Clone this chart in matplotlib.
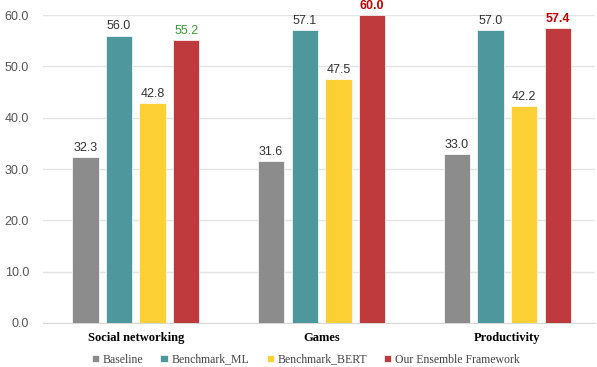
import numpy as np
import matplotlib.pyplot as plt

categories = ['Social networking', 'Games', 'Productivity']
series_names = ['Baseline', 'Benchmark_ML', 'Benchmark_BERT', 'Our Ensemble Framework']
baseline = [32.3, 31.6, 33.0]
benchmark_ml = [56.0, 57.1, 57.0]
benchmark_bert = [42.8, 47.5, 42.2]
ensemble = [55.2, 60.0, 57.4]

colors = ['#8c8c8c', '#4e979c', '#fdd035', '#bf3a3d']
# colour/weight of the value labels on the ensemble bars
ens_label_style = [('#3a9a3a', 'normal'), ('#c00000', 'bold'), ('#c00000', 'bold')]

fig = plt.figure(figsize=(5.97, 3.67), dpi=100)
ax = fig.add_axes([0.072, 0.12, 0.924, 0.839])

x = np.arange(len(categories))
width = 0.142
step = 0.181
all_series = [baseline, benchmark_ml, benchmark_bert, ensemble]

for i, (vals, name, c) in enumerate(zip(all_series, series_names, colors)):
    pos = x + (i - 1.5) * step
    bars = ax.bar(pos, vals, width, color=c, label=name, zorder=3,
                  edgecolor='white', linewidth=0.5)
    for j, (b, v) in enumerate(zip(bars, vals)):
        if i == 3:
            col, wt = ens_label_style[j]
        else:
            col, wt = '#333333', 'normal'
        ax.text(b.get_x() + b.get_width() / 2, v + 0.6, f'{v:.1f}',
                ha='center', va='bottom', fontsize=9, color=col,
                fontweight=wt, family='Liberation Sans', clip_on=False)

ax.set_xlim(-0.5, 2.47)
ax.set_ylim(0, 60)
ax.set_yticks(np.arange(0, 61, 10))
ax.set_yticklabels([f'{t:.1f}' for t in np.arange(0, 61, 10)],
                   fontsize=9, color='#555555', family='Liberation Sans')
ax.set_xticks(x)
ax.set_xticklabels(categories, fontsize=9, fontweight='bold',
                   family='Liberation Serif')
ax.tick_params(axis='both', length=0)
ax.tick_params(axis='x', pad=6.5)
ax.tick_params(axis='y', pad=10)
ax.grid(axis='y', color='#e4e4e4', linewidth=1, zorder=0)
for s in ['top', 'right', 'left']:
    ax.spines[s].set_visible(False)
ax.spines['bottom'].set_color('#d9d9d9')

leg = fig.legend(loc='lower center', bbox_to_anchor=(0.512, -0.025), ncol=4,
                 frameon=False, handlelength=0.6, handleheight=0.6,
                 handletextpad=0.3, columnspacing=1.5,
                 prop={'family': 'Liberation Serif', 'size': 8.5})
for t in leg.get_texts():
    t.set_color('#444444')

fig.savefig('out.png', dpi=100)
